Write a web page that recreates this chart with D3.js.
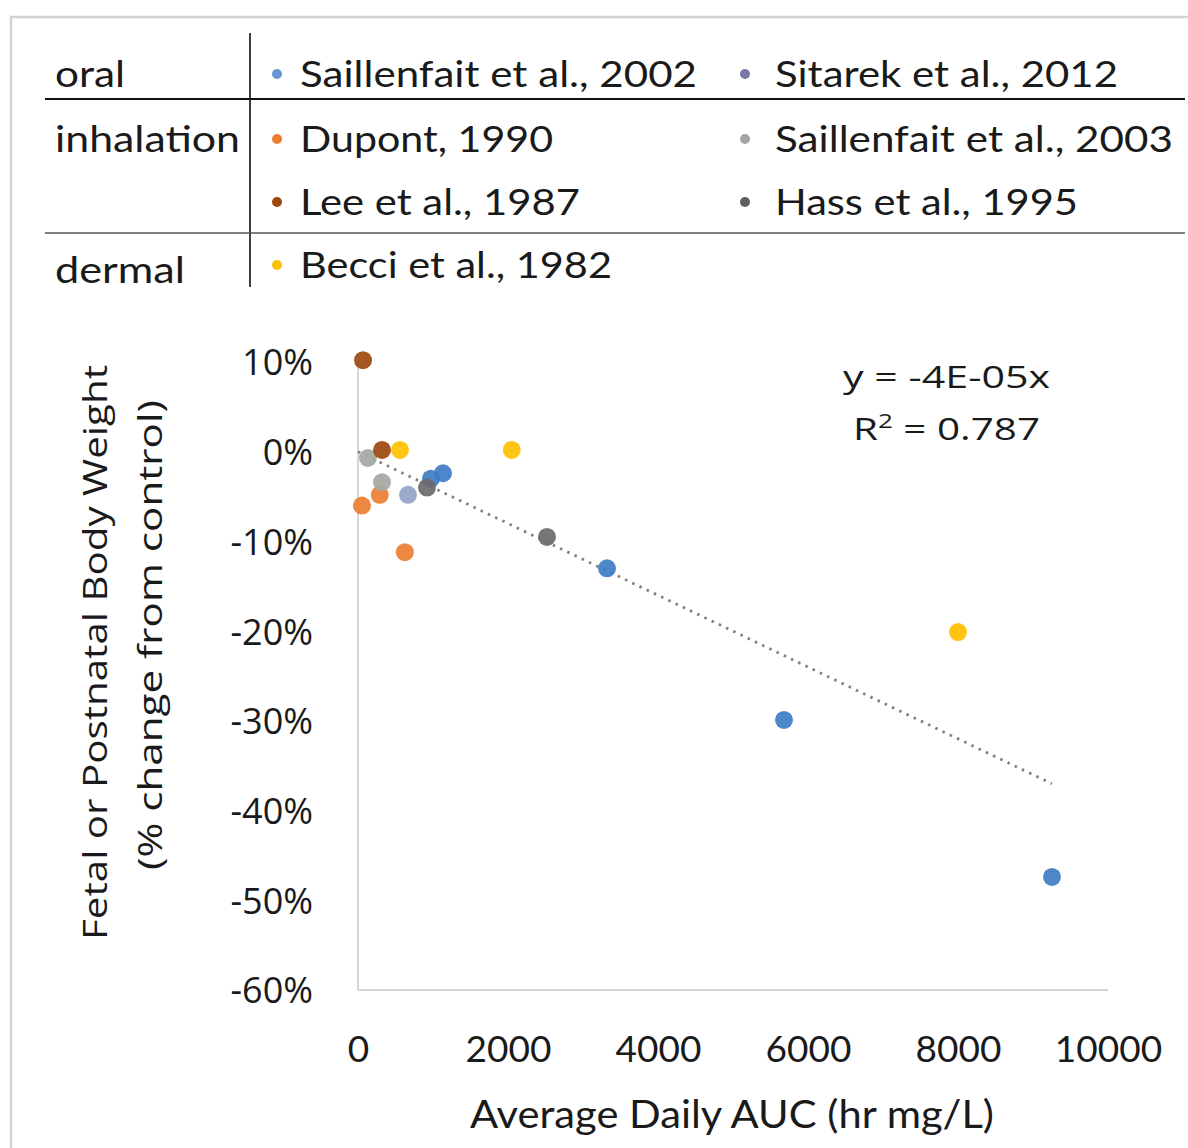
<!DOCTYPE html>
<html>
<head>
<meta charset="utf-8">
<script src="https://cdn.jsdelivr.net/npm/d3@7/dist/d3.min.js"></script>
<style>
  html, body { margin: 0; padding: 0; background: #ffffff; }
  svg { display: block; }
</style>
</head>
<body>
<svg id="chart" width="1188" height="1148"></svg>
<script>
// ---------------- DATA ----------------
const routes = ["oral", "inhalation", "dermal"];
const seriesNames = [
  "Saillenfait et al., 2002", "Sitarek et al., 2012",
  "Dupont, 1990", "Saillenfait et al., 2003",
  "Lee et al., 1987", "Hass et al., 1995",
  "Becci et al., 1982"
];
// x = Average Daily AUC (hr mg/L), y = % change from control (fraction)
const saillenfait2002X = [973, 1133, 3320, 5680, 9253];
const saillenfait2002Y = [-0.030, -0.024, -0.130, -0.299, -0.474];
const sitarek2012X = [667];
const sitarek2012Y = [-0.048];
const dupont1990X = [53, 290, 625];
const dupont1990Y = [-0.060, -0.048, -0.112];
const saillenfait2003X = [133, 320];
const saillenfait2003Y = [-0.007, -0.034];
const lee1987X = [67, 320];
const lee1987Y = [0.102, 0.002];
const hass1995X = [920, 2520];
const hass1995Y = [-0.040, -0.095];
const becci1982X = [560, 2050, 8000];
const becci1982Y = [0.002, 0.002, -0.201];

const xTicks = [0, 2000, 4000, 6000, 8000, 10000];
const yTicks = [0.1, 0, -0.1, -0.2, -0.3, -0.4, -0.5, -0.6];
const trendSlope = -4e-5;
const trendXRange = [0, 9253];
const equationText = "y = -4E-05x";
const r2Value = "0.787";
const xTitle = "Average Daily AUC (hr mg/L)";
const yTitle1 = "Fetal or Postnatal Body Weight";
const yTitle2 = "(% change from control)";

// ---------------- STYLE / LAYOUT ----------------
const seriesColor = {
  "Saillenfait et al., 2002": "#3f7cc6",
  "Sitarek et al., 2012": "#93a3c4",
  "Dupont, 1990": "#ed7d31",
  "Saillenfait et al., 2003": "#a5a8a2",
  "Lee et al., 1987": "#9e480e",
  "Hass et al., 1995": "#6a6a6a",
  "Becci et al., 1982": "#ffc000"
};
const legendDot = {
  "Saillenfait et al., 2002": "#6a94d0",
  "Sitarek et al., 2012": "#7a78a8",
  "Dupont, 1990": "#ed7d31",
  "Saillenfait et al., 2003": "#a5a5a5",
  "Lee et al., 1987": "#9e480e",
  "Hass et al., 1995": "#5f5f5f",
  "Becci et al., 1982": "#ffc000"
};
const seriesData = [
  [seriesNames[0], saillenfait2002X, saillenfait2002Y],
  [seriesNames[1], sitarek2012X, sitarek2012Y],
  [seriesNames[2], dupont1990X, dupont1990Y],
  [seriesNames[3], saillenfait2003X, saillenfait2003Y],
  [seriesNames[4], lee1987X, lee1987Y],
  [seriesNames[5], hass1995X, hass1995Y],
  [seriesNames[6], becci1982X, becci1982Y]
];

const svg = d3.select("#chart");
svg.append("rect").attr("width", 1188).attr("height", 1148).attr("fill", "#fff");

// faint outer frame
svg.append("path").attr("d", "M11,1148 L11,17 L1188,17")
  .attr("fill", "none").attr("stroke", "#d4d4d4").attr("stroke-width", 2.5);

function fitWidth(sel, w) {
  sel.attr("textLength", w).attr("lengthAdjust", "spacingAndGlyphs");
}

// ---------------- LEGEND TABLE ----------------
const lg = svg.append("g");
const rowBase = [87, 152, 215, 278];
const routeRow = [0, 1, 3];
const routeWidths = [70, 185, 130];
const legendFont = "Lato, 'Open Sans', sans-serif";
routes.forEach((r, i) => {
  const t = lg.append("text").attr("x", 55).attr("y", rowBase[routeRow[i]] + (i === 2 ? 5 : 0))
    .attr("font-family", legendFont).attr("font-size", 36).attr("fill", "#1a1a1a").text(r);
  fitWidth(t, routeWidths[i]);
});
lg.append("line").attr("x1", 250).attr("x2", 250).attr("y1", 33).attr("y2", 287)
  .attr("stroke", "#111").attr("stroke-width", 1.6);
lg.append("line").attr("x1", 45).attr("x2", 1185).attr("y1", 99).attr("y2", 99)
  .attr("stroke", "#111").attr("stroke-width", 1.8);
lg.append("line").attr("x1", 45).attr("x2", 1185).attr("y1", 233).attr("y2", 233)
  .attr("stroke", "#555").attr("stroke-width", 1.6);

const legendPos = [[0,0],[0,1],[1,0],[1,1],[2,0],[2,1],[3,0]];
const colDot = [277, 745], colText = [300, 775];
const legendWidths = [397, 343, 253, 398, 280, 303, 312];
seriesNames.forEach((name, i) => {
  const [row, col] = legendPos[i];
  lg.append("circle").attr("cx", colDot[col]).attr("cy", rowBase[row] - 13)
    .attr("r", 5).attr("fill", legendDot[name]);
  const t = lg.append("text").attr("x", colText[col]).attr("y", rowBase[row])
    .attr("font-family", legendFont).attr("font-size", 36).attr("fill", "#1a1a1a").text(name);
  fitWidth(t, legendWidths[i]);
});

// ---------------- PLOT ----------------
const x = d3.scaleLinear().domain([0, 10000]).range([358, 1108]);
const y = d3.scaleLinear().domain([-0.6, 0.1]).range([990, 362]);

// axes
const xAxis = svg.append("g").attr("transform", `translate(0,${y(-0.6)})`)
  .call(d3.axisBottom(x).tickValues(xTicks).tickSize(0).tickFormat(d3.format("d")));
xAxis.select(".domain").attr("stroke", "#c8c8c8").attr("stroke-width", 1.5)
  .attr("d", `M${x(0)},0H${x(10000)}`);
xAxis.selectAll("text").attr("font-family", "Lato, sans-serif").attr("font-size", 37)
  .attr("fill", "#1a1a1a").attr("dy", "0.71em").attr("y", 46);

const pctFmt = d => (Math.round(d * 100)) + "%";
const yAxis = svg.append("g").attr("transform", `translate(${x(0)},0)`)
  .call(d3.axisLeft(y).tickValues(yTicks).tickSize(0).tickPadding(45).tickFormat(pctFmt));
yAxis.select(".domain").attr("stroke", "#c8c8c8").attr("stroke-width", 1.5)
  .attr("d", `M0,${y(0.1)}V${y(-0.6)}`);
yAxis.selectAll("text").attr("font-family", "'Open Sans', sans-serif").attr("font-size", 36)
  .attr("fill", "#1a1a1a").attr("dy", "0.36em");

// trendline
const trend = d3.line().x(d => x(d)).y(d => y(trendSlope * d));
svg.append("path").datum(trendXRange).attr("d", trend)
  .attr("fill", "none").attr("stroke", "#808080").attr("stroke-width", 2.8)
  .attr("stroke-dasharray", "2.5,5.5");

// points
const pts = [];
seriesData.forEach(([name, xs, ys]) => xs.forEach((v, i) => pts.push({ name, x: v, y: ys[i] })));
svg.append("g").selectAll("circle").data(pts).join("circle")
  .attr("cx", d => x(d.x)).attr("cy", d => y(d.y)).attr("r", 9)
  .attr("fill", d => seriesColor[d.name]).attr("opacity", 0.92);

// equation
const eq = svg.append("g").attr("font-family", "'Open Sans', sans-serif").attr("fill", "#1a1a1a");
fitWidth(eq.append("text").attr("x", 843).attr("y", 388).attr("font-size", 31).text(equationText), 207);
const r2 = eq.append("text").attr("x", 853).attr("y", 440).attr("font-size", 31);
r2.append("tspan").text("R");
r2.append("tspan").attr("font-size", 20).attr("dy", -12).text("2");
r2.append("tspan").attr("dy", 12).text(" = " + r2Value);
fitWidth(r2, 187);

// axis titles
const xt = svg.append("text").attr("x", 470).attr("y", 1128)
  .attr("font-family", "Lato, sans-serif").attr("font-size", 38).attr("fill", "#1a1a1a").text(xTitle);
fitWidth(xt, 524);

const yt = svg.append("g").attr("font-family", "'Open Sans', sans-serif").attr("font-size", 33).attr("fill", "#1a1a1a");
const t1 = yt.append("text").attr("transform", "translate(107,940) rotate(-90)").text(yTitle1);
fitWidth(t1, 575);
const t2 = yt.append("text").attr("transform", "translate(162,870) rotate(-90)").text(yTitle2);
fitWidth(t2, 470);
</script>
</body>
</html>
